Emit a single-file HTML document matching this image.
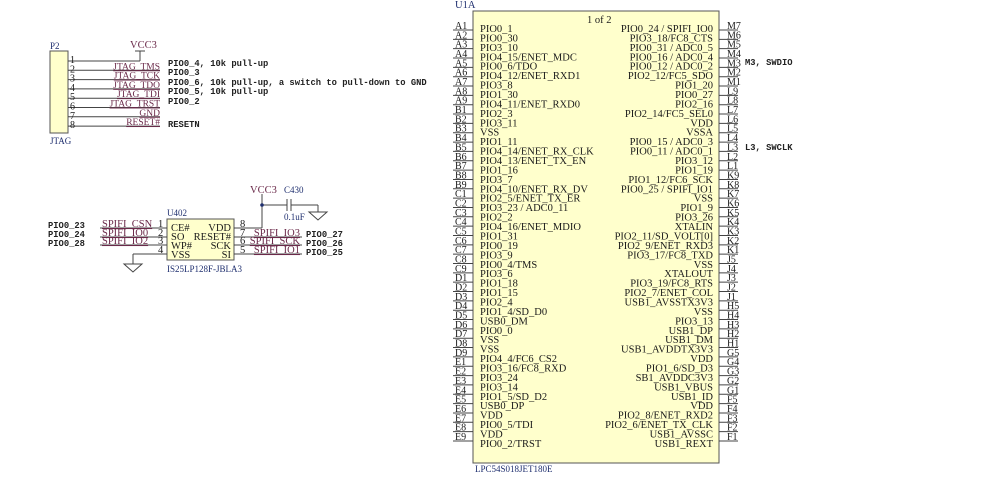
<!DOCTYPE html>
<html><head><meta charset="utf-8"><style>
html,body{margin:0;padding:0;background:#fff;width:999px;height:492px;overflow:hidden}
svg text{font-family:"Liberation Serif",serif;font-size:10.5px;fill:#1a1a1a}
.m{font-family:"Liberation Mono",monospace;font-size:8.8px;font-weight:bold;fill:#222}
.n{fill:#6b2a4a}
.b{fill:#1f2f6f}
</style></head><body>
<svg width="999" height="492" xmlns="http://www.w3.org/2000/svg">
<g id="chip">
<rect x="473" y="11" width="246" height="452" fill="#ffffcc" stroke="#555" stroke-width="1"/>
<text x="455" y="8" class="b">U1A</text>
<text x="587" y="23">1 of 2</text>
<text x="475" y="472" class="b" style="font-size:9px">LPC54S018JET180E</text>
<g id="pins"></g>
</g>
<text x="745" y="65" class="m">M3, SWDIO</text>
<text x="745" y="150" class="m">L3, SWCLK</text>

<!-- JTAG -->
<rect x="50" y="51" width="18" height="82" fill="#ffffcc" stroke="#555"/>
<text x="50" y="49" class="b" style="font-size:9px">P2</text>
<text x="50" y="144" class="b" style="font-size:9px">JTAG</text>
<g id="jtag"></g>
<text x="130" y="48" class="n">VCC3</text>
<line x1="140" y1="51" x2="140" y2="61" stroke="#444"/>
<line x1="135" y1="51" x2="145" y2="51" stroke="#444"/>
<text x="168" y="66" class="m">PIO0_4, 10k pull-up</text>
<text x="168" y="75" class="m">PIO0_3</text>
<text x="168" y="85" class="m">PIO0_6, 10k pull-up, a switch to pull-down to GND</text>
<text x="168" y="94" class="m">PIO0_5, 10k pull-up</text>
<text x="168" y="104" class="m">PIO0_2</text>
<text x="168" y="127" class="m">RESETN</text>

<!-- Flash -->
<rect x="167" y="219" width="67" height="41" fill="#ffffcc" stroke="#555"/>
<text x="167" y="216" class="b" style="font-size:9px">U402</text>
<text x="167" y="272" class="b" style="font-size:9px">IS25LP128F-JBLA3</text>
<g stroke="#444" fill="none">
<line x1="100" y1="228" x2="167" y2="228"/><line x1="100" y1="237" x2="167" y2="237"/><line x1="100" y1="245" x2="167" y2="245"/>
<line x1="133" y1="254" x2="167" y2="254"/><line x1="133" y1="254" x2="133" y2="264"/>
<path d="M124 264 H142 L133 272 Z"/>
<line x1="234" y1="228" x2="262" y2="228"/><line x1="262" y1="228" x2="262" y2="205"/>
<line x1="262" y1="194" x2="262" y2="205"/>
<line x1="262" y1="205" x2="287" y2="205"/><line x1="287" y1="199" x2="287" y2="211"/><line x1="291" y1="199" x2="291" y2="211"/>
<line x1="291" y1="205" x2="318" y2="205"/><line x1="318" y1="205" x2="318" y2="212"/>
<path d="M309 212 H327 L318 220 Z"/>
<line x1="234" y1="237" x2="302" y2="237"/><line x1="234" y1="245" x2="302" y2="245"/><line x1="234" y1="254" x2="302" y2="254"/>
</g>
<circle cx="262" cy="205" r="1.8" fill="#1f2f6f"/>
<text x="250" y="193" class="n">VCC3</text>
<text x="284" y="193" class="b" style="font-size:9px">C430</text>
<text x="284" y="220" class="b" style="font-size:9px">0.1uF</text>
<g style="font-size:10.5px">
<text x="171" y="231">CE#</text><text x="171" y="240">SO</text><text x="171" y="249">WP#</text><text x="171" y="258">VSS</text>
<text x="231" y="231" text-anchor="end">VDD</text><text x="231" y="240" text-anchor="end">RESET#</text><text x="231" y="249" text-anchor="end">SCK</text><text x="231" y="258" text-anchor="end">SI</text>
<text x="158" y="227">1</text><text x="158" y="236">2</text><text x="158" y="244">3</text><text x="158" y="253">4</text>
<text x="240" y="227">8</text><text x="240" y="236">7</text><text x="240" y="244">6</text><text x="240" y="253">5</text>
<text x="102" y="227" class="n" text-decoration="underline">SPIFI_CSN</text>
<text x="102" y="236" class="n" text-decoration="underline">SPIFI_IO0</text>
<text x="102" y="244" class="n" text-decoration="underline">SPIFI_IO2</text>
<text x="300" y="236" class="n" text-anchor="end" text-decoration="underline">SPIFI_IO3</text>
<text x="300" y="244" class="n" text-anchor="end" text-decoration="underline">SPIFI_SCK</text>
<text x="300" y="253" class="n" text-anchor="end" text-decoration="underline">SPIFI_IO1</text>
</g>
<text x="48" y="228" class="m">PIO0_23</text><text x="48" y="237" class="m">PIO0_24</text><text x="48" y="246" class="m">PIO0_28</text>
<text x="306" y="237" class="m">PIO0_27</text><text x="306" y="246" class="m">PIO0_26</text><text x="306" y="255" class="m">PIO0_25</text>
</svg>
<script>
var NS="http://www.w3.org/2000/svg";
function el(p,t,a,txt){var e=document.createElementNS(NS,t);for(var k in a)e.setAttribute(k,a[k]);if(txt!==undefined)e.textContent=txt;p.appendChild(e);return e;}
var g=document.getElementById("pins");
var L=["PIO0_1","PIO0_30","PIO3_10","PIO4_15/ENET_MDC","PIO0_6/TDO","PIO4_12/ENET_RXD1","PIO3_8","PIO1_30","PIO4_11/ENET_RXD0","PIO2_3","PIO3_11","VSS","PIO1_11","PIO4_14/ENET_RX_CLK","PIO4_13/ENET_TX_EN","PIO1_16","PIO3_7","PIO4_10/ENET_RX_DV","PIO2_5/ENET_TX_ER","PIO3_23 / ADC0_11","PIO2_2","PIO4_16/ENET_MDIO","PIO1_31","PIO0_19","PIO3_9","PIO0_4/TMS","PIO3_6","PIO1_18","PIO1_15","PIO2_4","PIO1_4/SD_D0","USB0_DM","PIO0_0","VSS","VSS","PIO4_4/FC6_CS2","PIO3_16/FC8_RXD","PIO3_24","PIO3_14","PIO1_5/SD_D2","USB0_DP","VDD","PIO0_5/TDI","VDD","PIO0_2/TRST"];
var R=["PIO0_24 / SPIFI_IO0","PIO3_18/FC8_CTS","PIO0_31 / ADC0_5","PIO0_16 / ADC0_4","PIO0_12 / ADC0_2","PIO2_12/FC5_SDO","PIO1_20","PIO0_27","PIO2_16","PIO2_14/FC5_SEL0","VDD","VSSA","PIO0_15 / ADC0_3","PIO0_11 / ADC0_1","PIO3_12","PIO1_19","PIO1_12/FC6_SCK","PIO0_25 / SPIFI_IO1","VSS","PIO1_9","PIO3_26","XTALIN","PIO2_11/SD_VOLT[0]","PIO2_9/ENET_RXD3","PIO3_17/FC8_TXD","VSS","XTALOUT","PIO3_19/FC8_RTS","PIO2_7/ENET_COL","USB1_AVSSTX3V3","VSS","PIO3_13","USB1_DP","USB1_DM","USB1_AVDDTX3V3","VDD","PIO1_6/SD_D3","SB1_AVDDC3V3","USB1_VBUS","USB1_ID","VDD","PIO2_8/ENET_RXD2","PIO2_6/ENET_TX_CLK","USB1_AVSSC","USB1_REXT"];
var LP=[],RP=[];
"ABCDE".split("").forEach(function(c){for(var i=1;i<=9;i++)LP.push(c+i);});
for(var i=7;i>=1;i--)RP.push("M"+i);
["L","K"].forEach(function(c){for(var i=9;i>=1;i--)RP.push(c+i);});
["J","H","G","F"].forEach(function(c){for(var i=5;i>=1;i--)RP.push(c+i);});
for(var i=0;i<45;i++){
 var y=30+i*9.34, ty=32+i*9.43;
 el(g,"line",{x1:453,y1:y,x2:473,y2:y,stroke:"#444"});
 el(g,"line",{x1:719,y1:y,x2:738,y2:y,stroke:"#444"});
 el(g,"text",{x:455,y:y-1,style:"font-size:10px"},LP[i]);
 el(g,"text",{x:727,y:y-1,style:"font-size:10px"},RP[i]);
 el(g,"text",{x:480,y:ty},L[i]);
 el(g,"text",{x:713,y:ty,"text-anchor":"end"},R[i]);
}
var j=document.getElementById("jtag");
var nets=["","JTAG_TMS","JTAG_TCK","JTAG_TDO","JTAG_TDI","JTAG_TRST","GND","RESET#"];
for(var i=0;i<8;i++){
 var y=61+i*9.3;
 el(j,"line",{x1:68,y1:y,x2:i==0?140:160,y2:y,stroke:"#444"});
 el(j,"text",{x:70,y:y+2,style:"font-size:10px"},String(i+1));
 if(nets[i])el(j,"text",{x:160,y:y-1,"text-anchor":"end","class":"n","text-decoration":"underline",style:"font-size:9.5px"},nets[i]);
}
</script>
</body></html>
